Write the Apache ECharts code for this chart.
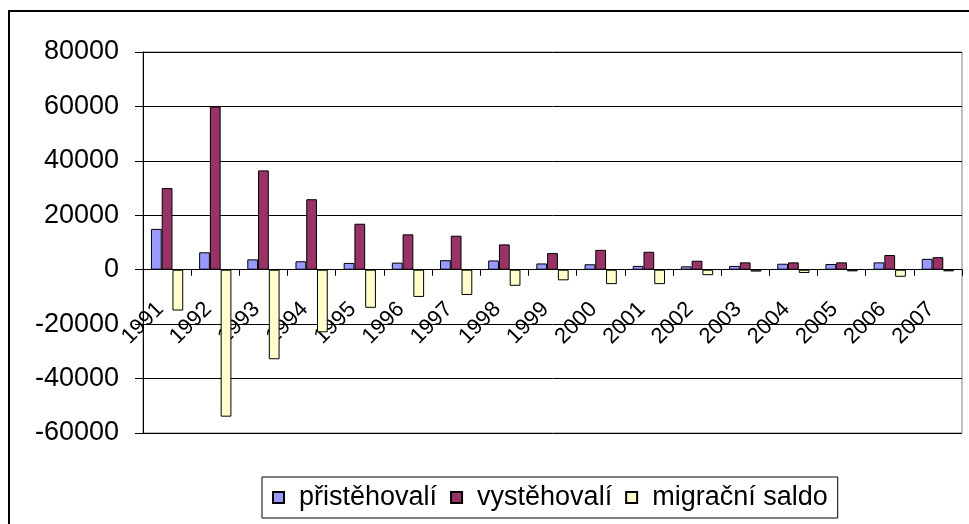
<!DOCTYPE html>
<html>
<head>
<meta charset="utf-8">
<script src="https://cdn.jsdelivr.net/npm/echarts@6/dist/echarts.min.js"></script>
<style>html,body{margin:0;padding:0;background:#fff}#c{width:969px;height:524px}</style>
</head>
<body>
<div id="c"></div>
<script>
const years = ['1991','1992','1993','1994','1995','1996','1997','1998','1999','2000','2001','2002','2003','2004','2005','2006','2007'];
const prist = [15000, 6400, 3800, 3100, 2500, 2600, 3500, 3400, 2300, 2000, 1400, 1250, 1400, 2200, 2100, 2700, 4000];
const vyst  = [30000, 60000, 36500, 25900, 16900, 13000, 12500, 9300, 6100, 7300, 6600, 3300, 2700, 2700, 2700, 5400, 4600];
const saldo = [-15000, -54000, -32900, -23000, -14000, -10000, -9300, -5900, -3900, -5300, -5300, -2000, -700, -1200, -600, -2600, -600];
const yTicks = {min: -60000, max: 80000, interval: 20000};

const chart = echarts.init(document.getElementById('c'));
const font = 'Liberation Sans, Arial, sans-serif';
const gridTop = 52, gridBottom = 91, H = 524;
// distance from the grid bottom up to the zero line (axis sits on zero)
const plotH = H - gridTop - gridBottom;
const zeroOffset = plotH * (0 - yTicks.min) / (yTicks.max - yTicks.min);
function bar(name, data, color) {
  return {
    name, type: 'bar', data,
    barGap: '0%', barCategoryGap: '33%',
    itemStyle: {color, borderColor: '#000', borderWidth: 1},
    emphasis: {disabled: true}
  };
}
chart.setOption({
  animation: false,
  graphic: [
    {type: 'polyline', shape: {points: [[9, 524], [9, 11], [969, 11]]}, style: {stroke: '#000', lineWidth: 2, fill: null}}
  ],
  grid: {left: 143, right: 7, top: gridTop, bottom: gridBottom, show: true, borderColor: '#808080', borderWidth: 1},
  legend: {
    left: 262, top: 477,
    padding: [7, 10, 7, 10],
    borderColor: '#000', borderWidth: 1,
    itemWidth: 11, itemHeight: 11, itemGap: 13,
    icon: 'rect',
    textStyle: {fontFamily: font, fontSize: 27, color: '#000', padding: [0, 0, 0, 10]}
  },
  xAxis: {
    type: 'category', data: years,
    offset: -zeroOffset,
    axisLine: {onZero: false, lineStyle: {color: '#000', width: 1}},
    axisTick: {show: true, length: 6, lineStyle: {color: '#000'}},
    axisLabel: {interval: 0, rotate: 45, fontFamily: font, fontSize: 22, color: '#000', margin: 29, padding: [0, 10, 0, 0]},
    splitLine: {show: false}
  },
  yAxis: {
    type: 'value', min: yTicks.min, max: yTicks.max, interval: yTicks.interval,
    axisLine: {show: true, lineStyle: {color: '#000', width: 1}},
    axisTick: {show: true, length: 8, lineStyle: {color: '#000'}},
    axisLabel: {fontFamily: font, fontSize: 27, color: '#000', margin: 24, formatter: v => String(v)},
    splitLine: {show: true, lineStyle: {color: '#000', width: 1}}
  },
  series: [
    bar('přistěhovalí', prist, '#9999FF'),
    bar('vystěhovalí', vyst, '#993366'),
    bar('migrační saldo', saldo, '#FFFFCC')
  ]
});
</script>
</body>
</html>
